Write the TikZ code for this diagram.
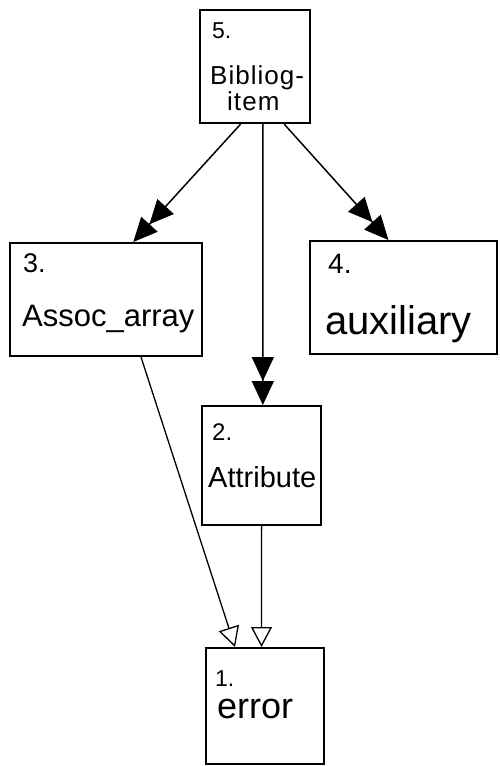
\documentclass[tikz,border=0pt]{standalone}
\usepackage{fontspec}
\setmainfont{Liberation Sans}
\usetikzlibrary{arrows.meta,calc}
\begin{document}
\begin{tikzpicture}[x=1pt,y=-1pt,
  box/.style={draw,line width=2.2pt,inner sep=0pt,anchor=north west},
  lbl/.style={anchor=base west,inner sep=0pt},
  uses/.style={line width=1.5pt,
    -{Triangle[length=24pt,width=22pt]Triangle[length=24pt,width=22pt]}},
  inherits/.style={line width=1.3pt,
    -{Triangle[open,length=20pt,width=21pt,line width=1.3pt]}}]
  \useasboundingbox (0,0) rectangle (500,766);

  % modules
  \node[box,minimum width=110pt,minimum height=113pt] (b5) at (199,9) {};
  \node[box,minimum width=192pt,minimum height=113pt] (b3) at (9,242) {};
  \node[box,minimum width=187pt,minimum height=113pt] (b4) at (309,240) {};
  \node[box,minimum width=119pt,minimum height=119pt] (b2) at (201,405) {};
  \node[box,minimum width=118pt,minimum height=116pt] (b1) at (205,647) {};

  % labels
  \node[lbl,font=\fontsize{23}{23}\selectfont] (n5) at (212,38) {5.};
  \node[lbl,font=\fontsize{26}{26}\selectfont\addfontfeatures{LetterSpace=4}] (t5a) at (210,84) {Bibliog-};
  \node[lbl,font=\fontsize{26}{26}\selectfont\addfontfeatures{LetterSpace=4}] (t5b) at (227,110) {item};
  \node[lbl,font=\fontsize{27}{27}\selectfont] (n3) at (23,272) {3.};
  \node[lbl,font=\fontsize{31}{31}\selectfont] (t3) at (22,326) {Assoc\_array};
  \node[lbl,font=\fontsize{28}{28}\selectfont] (n4) at (328,273) {4.};
  \node[lbl,font=\fontsize{40}{40}\selectfont] (t4) at (325,334) {auxiliary};
  \node[lbl,font=\fontsize{24}{24}\selectfont] (n2) at (212,440) {2.};
  \node[lbl,font=\fontsize{29}{29}\selectfont] (t2) at (208,487) {Attribute};
  \node[lbl,font=\fontsize{23}{23}\selectfont] (n1) at (215,686) {1.};
  \node[lbl,font=\fontsize{36}{36}\selectfont] (t1) at (217,718) {error};

  % connector end points on the box borders
  \coordinate (s53) at ($(b5.south west)!0.37!(b5.south east)$);
  \coordinate (s52) at ($(b5.south west)!0.57!(b5.south east)$);
  \coordinate (s54) at ($(b5.south west)!0.76!(b5.south east)$);
  \coordinate (e3)  at ($(b3.north west)!0.64!(b3.north east)$);
  \coordinate (e4)  at ($(b4.north west)!0.42!(b4.north east)$);
  \coordinate (e2)  at ($(b2.north west)!0.51!(b2.north east)$);
  \coordinate (s31) at ($(b3.south west)!0.68!(b3.south east)$);
  \coordinate (s21) at ($(b2.south west)!0.50!(b2.south east)$);
  \coordinate (e13) at ($(b1.north west)!0.25!(b1.north east)$);
  \coordinate (e12) at ($(b1.north west)!0.47!(b1.north east)$);

  % dependencies
  \draw[uses] (s53) -- (e3);
  \draw[uses] (s52) -- (e2);
  \draw[uses] (s54) -- (e4);
  \draw[inherits] (s31) -- (e13);
  \draw[inherits] (s21) -- (e12);
\end{tikzpicture}
\end{document}
